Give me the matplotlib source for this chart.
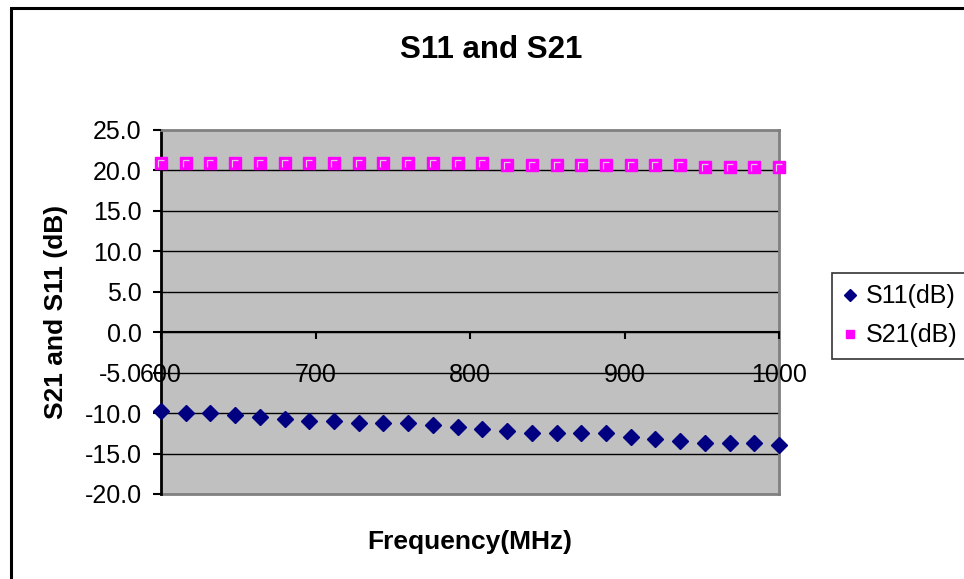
import numpy as np
import matplotlib
matplotlib.use("Agg")
from matplotlib import pyplot as plt
from matplotlib.patches import Rectangle
from matplotlib.path import Path

plt.rcParams['font.family'] = ['Liberation Sans', 'DejaVu Sans']

# frequency points (MHz)
freq = [600, 616, 632, 648, 664, 680, 696, 712, 728, 744, 760, 776, 792,
        808, 824, 840, 856, 872, 888, 904, 920, 936, 952, 968, 984, 1000]
s11 = [-9.75, -10.0, -10.0, -10.25, -10.5, -10.75, -11.0, -11.0, -11.25,
       -11.25, -11.25, -11.5, -11.75, -12.0, -12.25, -12.5, -12.5, -12.5,
       -12.5, -13.0, -13.25, -13.5, -13.75, -13.75, -13.75, -14.0]
s21 = [20.9, 20.9, 20.9, 20.9, 20.9, 20.9, 20.9, 20.9, 20.9, 20.9, 20.9,
       20.9, 20.9, 20.9, 20.7, 20.7, 20.7, 20.7, 20.7, 20.7, 20.7, 20.7,
       20.4, 20.4, 20.4, 20.4]
yticks = [-20, -15, -10, -5, 0, 5, 10, 15, 20, 25]
xticks = [600, 700, 800, 900, 1000]

W, H = 964, 579
fig = plt.figure(figsize=(W/100, H/100), dpi=100)
ax = fig.add_axes([161/W, 1-494/H, (779-161)/W, (494-130)/H])
ax.set_facecolor('#C0C0C0')

# outer chart border
fig.patches.append(Rectangle((11/W, -0.05), 1.05, 1-8/H+0.05, transform=fig.transFigure,
                             fill=False, edgecolor='black', linewidth=2.2))

for y in yticks[1:-1]:
    ax.axhline(y, color='black', linewidth=1.0, zorder=1)

h11, = ax.plot(freq, s11, linestyle='none', marker='D', markersize=8.5,
               color='#000080', label='S11(dB)', zorder=3, clip_on=False)
h21, = ax.plot(freq, s21, linestyle='none', marker='s', markersize=9,
               markerfacecolor='#FF00FF', markeredgecolor='#FF00FF',
               label='S21(dB)', zorder=3, clip_on=False)
# light inner corner of the excel square marker
corner = Path([(-0.55, -0.7), (-0.55, 0.55), (0.45, 0.55)],
              [Path.MOVETO, Path.LINETO, Path.LINETO])
ax.plot(freq, s21, linestyle='none', marker=corner, markersize=6,
        markerfacecolor='none', markeredgecolor='#E0C8E0', markeredgewidth=0.9,
        zorder=4, clip_on=False)

ax.set_xlim(600, 1000)
ax.set_ylim(-20, 25)
ax.set_yticks(yticks)
ax.set_yticklabels(['%.1f' % v for v in yticks])
ax.set_xticks(xticks)
ax.set_xticklabels([str(v) for v in xticks])

ax.spines['bottom'].set_position(('data', 0))
ax.spines['bottom'].set_color('black')
ax.spines['bottom'].set_linewidth(1.5)
ax.spines['left'].set_linewidth(2)
ax.spines['left'].set_color('black')
ax.spines['right'].set_color('#808080')
ax.spines['right'].set_linewidth(2)
ax.spines['top'].set_color('#808080')
ax.spines['top'].set_linewidth(2)
# gray bottom edge at -20
ax.axhline(-20, color='#808080', linewidth=2, zorder=2, clip_on=False)

ax.tick_params(axis='y', direction='out', length=6, width=1.5, pad=8, labelsize=18)
ax.tick_params(axis='x', direction='out', length=5, width=1.5, pad=17, labelsize=18)
for lbl in ax.get_xticklabels():
    lbl.set_zorder(5)
ax.set_axisbelow(False)

fig.text(491/W, 1-50/H, 'S11 and S21', ha='center', va='center',
         fontsize=22.5, fontweight='bold')
fig.text(470/W, 1-542/H, 'Frequency(MHz)', ha='center', va='center',
         fontsize=19, fontweight='bold')
fig.text(56/W, 1-312/H, 'S21 and S11 (dB)', ha='center', va='center',
         rotation=90, fontsize=19, fontweight='bold')

leg = fig.legend(handles=[h11, h21], loc='upper left',
                 bbox_to_anchor=(832/W, 1-273/H),
                 fontsize=18, frameon=True, fancybox=False, handlelength=0.5,
                 handletextpad=0.4, borderpad=0.45, labelspacing=0.6,
                 markerscale=0.7, borderaxespad=0)
leg.get_frame().set_edgecolor('black')
leg.get_frame().set_linewidth(1.2)

fig.savefig('out.png', dpi=100)
